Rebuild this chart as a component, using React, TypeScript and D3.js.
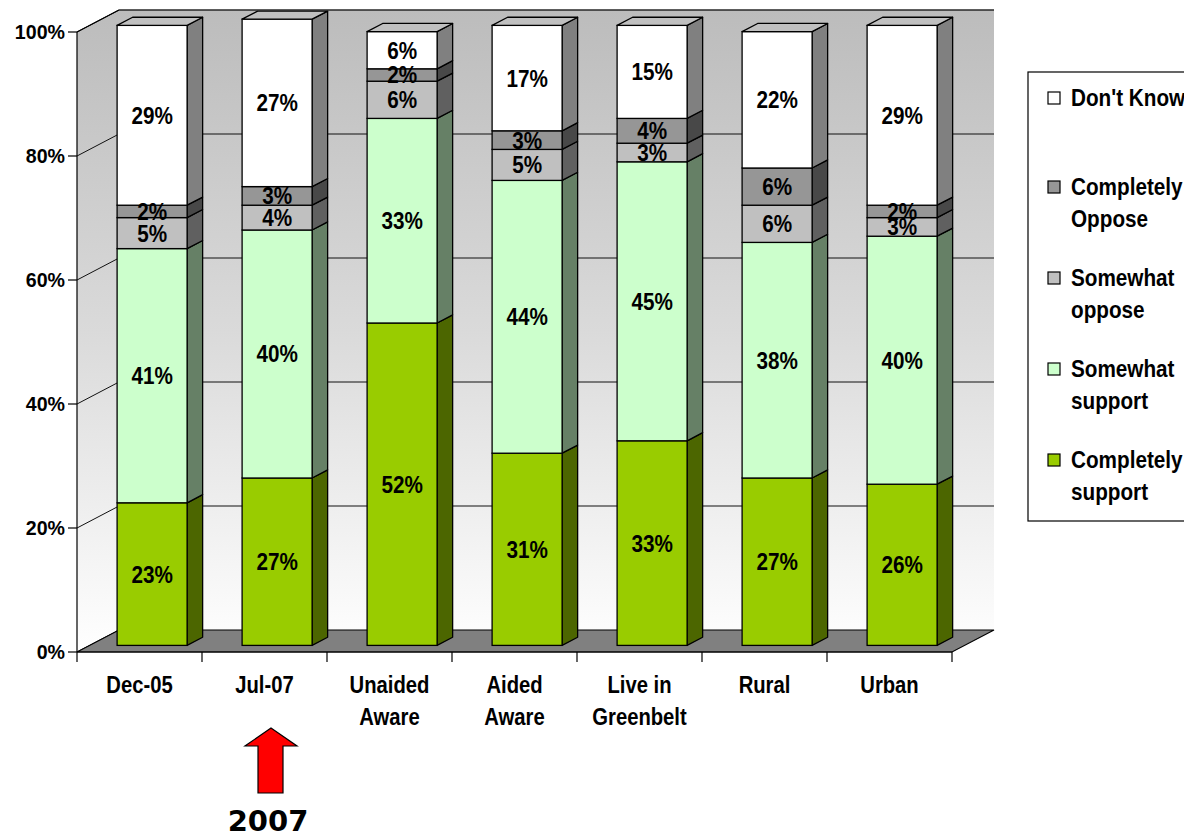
import React from "react";
import * as d3 from "d3";

// Survey groups along the x axis
const categories = ["Dec-05", "Jul-07", "Unaided Aware", "Aided Aware", "Live in Greenbelt", "Rural", "Urban"];
const categoryLines = [["Dec-05"], ["Jul-07"], ["Unaided", "Aware"], ["Aided", "Aware"], ["Live in", "Greenbelt"], ["Rural"], ["Urban"]];

// Stacked shares, bottom to top
const completelySupport = [23, 27, 52, 31, 33, 27, 26];
const somewhatSupport = [41, 40, 33, 44, 45, 38, 40];
const somewhatOppose = [5, 4, 6, 5, 3, 6, 3];
const completelyOppose = [2, 3, 2, 3, 4, 6, 2];
const dontKnow = [29, 27, 6, 17, 15, 22, 29];

const seriesKeys = ["completelySupport", "somewhatSupport", "somewhatOppose", "completelyOppose", "dontKnow"];
const seriesValues = [completelySupport, somewhatSupport, somewhatOppose, completelyOppose, dontKnow];

const yTicks = [0, 20, 40, 60, 80, 100];
const yTickLabels = ["0%", "20%", "40%", "60%", "80%", "100%"];

const legendEntries = [
  { key: "dontKnow", lines: ["Don't Know"] },
  { key: "completelyOppose", lines: ["Completely", "Oppose"] },
  { key: "somewhatOppose", lines: ["Somewhat", "oppose"] },
  { key: "somewhatSupport", lines: ["Somewhat", "support"] },
  { key: "completelySupport", lines: ["Completely", "support"] },
];

const frontColor: Record<string, string> = {
  completelySupport: "#99CC00",
  somewhatSupport: "#CCFFCC",
  somewhatOppose: "#C0C0C0",
  completelyOppose: "#969696",
  dontKnow: "#FFFFFF",
};
const sideColor: Record<string, string> = {
  completelySupport: "#4C6600",
  somewhatSupport: "#668066",
  somewhatOppose: "#606060",
  completelyOppose: "#484848",
  dontKnow: "#808080",
};
const topColor: Record<string, string> = {
  completelySupport: "#7AA300",
  somewhatSupport: "#A3CCA3",
  somewhatOppose: "#9A9A9A",
  completelyOppose: "#787878",
  dontKnow: "#C0C0C0",
};

// Plot geometry (front plane) and 3D depth offsets
const left = 77;
const right = 952;
const bottom = 652;
const top = 32;
const depthX = 42;
const depthY = 22;
const barWidth = 70;
const zFront = 0.3;
const zBack = 0.67;

const FONT = "'Liberation Sans', Arial, Helvetica, sans-serif";

function Txt(props: { x: number; y: number; size: number; sx?: number; anchor?: string; children: React.ReactNode }) {
  const { x, y, size, sx = 0.88, anchor = "middle", children } = props;
  return (
    <text
      transform={`translate(${x},${y}) scale(${sx},1)`}
      textAnchor={anchor}
      fontSize={size}
      fontWeight="bold"
      fontFamily={FONT}
      fill="#000"
    >
      {children}
    </text>
  );
}

export default function App() {
  const x = d3.scaleBand<string>().domain(categories).range([left, right]).paddingInner(0).paddingOuter(0);
  const y = d3.scaleLinear().domain([0, 100]).range([bottom, top]);

  const table = categories.map((c, i) => {
    const row: Record<string, number | string> = { category: c };
    seriesKeys.forEach((k, j) => (row[k] = seriesValues[j][i]));
    return row;
  });
  const stacked = d3.stack<any>().keys(seriesKeys)(table as any);

  const fdx = depthX * zFront;
  const fdy = depthY * zFront;
  const bdx = depthX * (zBack - zFront);
  const bdy = depthY * (zBack - zFront);

  const pts = (p: [number, number][]) => p.map((q) => q.join(",")).join(" ");

  const wallTop = top - depthY;
  const wallLeft = left + depthX;
  const wallRight = right + depthX;
  const wallBottom = bottom - depthY;

  const stroke = "#000";
  const sw = 1.3;

  const julX = (x("Jul-07") as number) + x.bandwidth() / 2;

  return (
    <svg width={1184} height={836} style={{ position: "absolute", left: 0, top: 0, display: "block" }}>
      <defs>
        <linearGradient id="wallGrad" gradientUnits="userSpaceOnUse" x1={0} y1={wallTop} x2={0} y2={bottom}>
          <stop offset="0" stopColor="#BCBCBC" />
          <stop offset="0.5" stopColor="#DADADA" />
          <stop offset="1" stopColor="#FFFFFF" />
        </linearGradient>
      </defs>
      <rect width={1184} height={836} fill="#fff" />

      {/* back wall */}
      <rect x={wallLeft} y={wallTop} width={wallRight - wallLeft} height={wallBottom - wallTop} fill="url(#wallGrad)" />
      {/* side wall */}
      <polygon
        points={pts([
          [left, top],
          [wallLeft, wallTop],
          [wallLeft, wallBottom],
          [left, bottom],
        ])}
        fill="url(#wallGrad)"
      />
      {/* gridlines */}
      {yTicks.map((t) => (
        <g key={"g" + t}>
          <line x1={left} y1={y(t)} x2={wallLeft} y2={y(t) - depthY} stroke="#111" strokeWidth={1} />
          {t > 0 && (
            <line x1={wallLeft} y1={y(t) - depthY} x2={wallRight} y2={y(t) - depthY} stroke="#111" strokeWidth={1} />
          )}
        </g>
      ))}
      {/* floor */}
      <polygon
        points={pts([
          [left, bottom],
          [wallLeft, wallBottom],
          [wallRight, wallBottom],
          [right, bottom],
        ])}
        fill="#808080"
        stroke={stroke}
        strokeWidth={1.2}
      />

      {/* bars */}
      {categories.map((c, i) => {
        const x0 = (x(c) as number) + (x.bandwidth() - barWidth) / 2 + fdx;
        const x1 = x0 + barWidth;
        return (
          <g key={c}>
            {stacked.map((s, j) => {
              const key = s.key;
              const [v0, v1] = s[i];
              const yb = y(v0) - fdy;
              const yt = y(v1) - fdy;
              const isTop = j === stacked.length - 1;
              return (
                <g key={key}>
                  <polygon
                    points={pts([
                      [x1, yt],
                      [x1 + bdx, yt - bdy],
                      [x1 + bdx, yb - bdy],
                      [x1, yb],
                    ])}
                    fill={sideColor[key]}
                    stroke={stroke}
                    strokeWidth={sw}
                    strokeLinejoin="round"
                  />
                  <rect x={x0} y={yt} width={barWidth} height={yb - yt} fill={frontColor[key]} stroke={stroke} strokeWidth={sw} />
                  {isTop && (
                    <polygon
                      points={pts([
                        [x0, yt],
                        [x0 + bdx, yt - bdy],
                        [x1 + bdx, yt - bdy],
                        [x1, yt],
                      ])}
                      fill={topColor[key]}
                      stroke={stroke}
                      strokeWidth={sw}
                      strokeLinejoin="round"
                    />
                  )}
                </g>
              );
            })}
            {stacked.map((s, j) => {
              const [v0, v1] = s[i];
              const mid = (y(v0) + y(v1)) / 2 - fdy;
              return (
                <Txt key={"l" + j} x={x0 + barWidth / 2} y={mid + 8.4} size={23.5}>
                  {`${seriesValues[j][i]}%`}
                </Txt>
              );
            })}
          </g>
        );
      })}

      {/* axes */}
      <line x1={left} y1={top} x2={left} y2={bottom} stroke={stroke} strokeWidth={1.2} />
      <line x1={left} y1={top} x2={wallLeft} y2={wallTop} stroke={stroke} strokeWidth={1.2} />
      <line x1={wallLeft} y1={wallTop} x2={wallRight} y2={wallTop} stroke="#333" strokeWidth={1.2} />
      <line x1={left} y1={bottom} x2={right} y2={bottom} stroke={stroke} strokeWidth={1.2} />
      {yTicks.map((t, i) => (
        <g key={"yt" + t}>
          <line x1={left - 9} y1={y(t)} x2={left} y2={y(t)} stroke={stroke} strokeWidth={1.2} />
          <Txt x={left - 12} y={y(t) + 7} size={20} sx={0.98} anchor="end">
            {yTickLabels[i]}
          </Txt>
        </g>
      ))}
      {[...categories.map((c) => x(c) as number), right].map((xv, i) => (
        <line key={"xt" + i} x1={xv} y1={bottom} x2={xv} y2={bottom + 10} stroke={stroke} strokeWidth={1.2} />
      ))}
      {categories.map((c, i) => (
        <g key={"xl" + c}>
          {categoryLines[i].map((ln, k) => (
            <Txt key={k} x={(x(c) as number) + x.bandwidth() / 2} y={693 + k * 32} size={23}>
              {ln}
            </Txt>
          ))}
        </g>
      ))}

      {/* legend */}
      <rect x={1028} y={72} width={200} height={449} fill="#fff" stroke={stroke} strokeWidth={1.2} />
      {legendEntries.map((e, i) => {
        const base = [106, 195, 286, 377, 468][i];
        return (
          <g key={e.key}>
            <rect x={1048} y={base - 14} width={12} height={12} fill={frontColor[e.key]} stroke={stroke} strokeWidth={1.2} />
            {e.lines.map((ln, k) => (
              <Txt key={k} x={1071} y={base + k * 32} size={23} sx={0.9} anchor="start">
                {ln}
              </Txt>
            ))}
          </g>
        );
      })}

      {/* marker under Jul-07 */}
      <polygon
        points={pts([
          [julX + 6.5, 728],
          [julX + 32.5, 746],
          [julX + 18.5, 746],
          [julX + 18.5, 793],
          [julX - 6.5, 793],
          [julX - 6.5, 746],
          [julX - 19.5, 746],
        ])}
        fill="#FF0000"
        stroke="#000"
        strokeWidth={1.2}
      />
      <text
        x={julX + 3.5}
        y={831}
        textAnchor="middle"
        fontSize={29}
        fontWeight="bold"
        fontFamily="'DejaVu Sans', Verdana, sans-serif"
        fill="#000"
      >
        2007
      </text>
    </svg>
  );
}
